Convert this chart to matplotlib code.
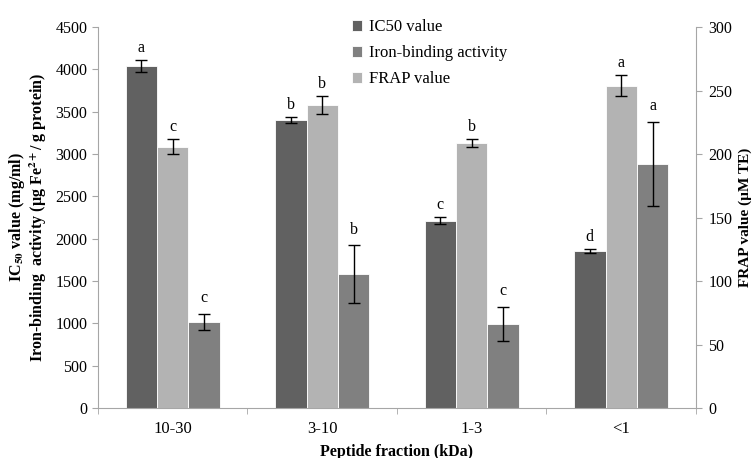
import matplotlib
matplotlib.use("Agg")
import matplotlib.pyplot as plt
import numpy as np

plt.rcParams['font.family'] = ['Liberation Serif', 'DejaVu Serif']
plt.rcParams['mathtext.fontset'] = 'stix'

fractions = ['10-30', '3-10', '1-3', '<1']
ic50 = [4040, 3405, 2212, 1853]
ic50_err = [70, 35, 40, 20]
iron = [1017, 1584, 990, 2885]
iron_err = [95, 340, 203, 497]
frap = [205.7, 238.8, 208.6, 253.8]
frap_err = [6, 7, 3.4, 8.4]
letters_ic50 = ['a', 'b', 'c', 'd']
letters_frap = ['c', 'b', 'b', 'a']
letters_iron = ['c', 'b', 'c', 'a']

c_dark = '#616161'
c_mid = '#808080'
c_light = '#b3b3b3'
spine_c = '#a6a6a6'

fig = plt.figure(figsize=(7.56, 4.58), dpi=100)
ax = fig.add_axes([0.1296, 0.109, 0.7910, 0.832])
ax2 = ax.twinx()

x = np.arange(len(fractions))
w = 0.21
ekw = dict(ecolor='black', elinewidth=1.0, capsize=4, capthick=1.0)

b1 = ax.bar(x - w, ic50, w, color=c_dark, edgecolor='white', linewidth=0.6,
            yerr=ic50_err, error_kw=ekw, label='IC50 value', zorder=2)
b3 = ax.bar(x + w, iron, w, color=c_mid, edgecolor='white', linewidth=0.6,
            yerr=iron_err, error_kw=ekw, label='Iron-binding activity', zorder=2)
b2 = ax2.bar(x, frap, w, color=c_light, edgecolor='white', linewidth=0.6,
             yerr=frap_err, error_kw=ekw, label='FRAP value', zorder=2)

# significance letters above each error bar
for i in range(len(fractions)):
    ax.text(x[i] - w, ic50[i] + ic50_err[i] + 50, letters_ic50[i], ha='center',
            va='bottom', fontsize=11.5)
    ax.text(x[i] + w, iron[i] + iron_err[i] + 90, letters_iron[i], ha='center',
            va='bottom', fontsize=11.5)
    ax2.text(x[i], frap[i] + frap_err[i] + 3, letters_frap[i], ha='center',
             va='bottom', fontsize=11.5)

ax.set_xlim(-0.5, 3.5)
ax.set_ylim(0, 4500)
ax.set_yticks(np.arange(0, 4501, 500))
ax2.set_ylim(0, 300)
ax2.set_yticks(np.arange(0, 301, 50))

ax.set_xticks(x)
ax.set_xticklabels(fractions, fontsize=12)
ax.set_xticks(np.arange(-0.5, 3.6, 1), minor=True)
ax.tick_params(axis='x', which='major', length=0, pad=9)
ax.tick_params(axis='x', which='minor', length=4, color=spine_c)
ax.tick_params(axis='y', length=4, color=spine_c, labelsize=11.5)
ax2.tick_params(axis='y', length=4, color=spine_c, labelsize=11.5, pad=5)

for a in (ax, ax2):
    a.spines['top'].set_visible(False)
    for s in ('left', 'right', 'bottom'):
        a.spines[s].set_color(spine_c)
ax.spines['right'].set_visible(False)
ax2.spines['left'].set_visible(False)
ax2.spines['bottom'].set_visible(False)

ax.set_xlabel('Peptide fraction (kDa)', fontsize=11.5, fontweight='bold', labelpad=5)
ax.set_ylabel('IC$_{\\mathbf{50}}$ value (mg/ml)\nIron-binding  activity (µg Fe$^{\\mathbf{2+}}$/ g protein)',
              fontsize=11.5, fontweight='bold', labelpad=5, linespacing=1.05)
ax2.set_ylabel('FRAP value (µM TE)', fontsize=11, fontweight='bold', labelpad=4)

ax.legend([b1, b3, b2], ['IC50 value', 'Iron-binding activity', 'FRAP value'],
          loc='upper left', bbox_to_anchor=(0.40, 1.06), frameon=False,
          fontsize=12, handlelength=0.6, handleheight=0.6, handletextpad=0.4,
          labelspacing=0.6)

fig.savefig('out.png', dpi=100)
